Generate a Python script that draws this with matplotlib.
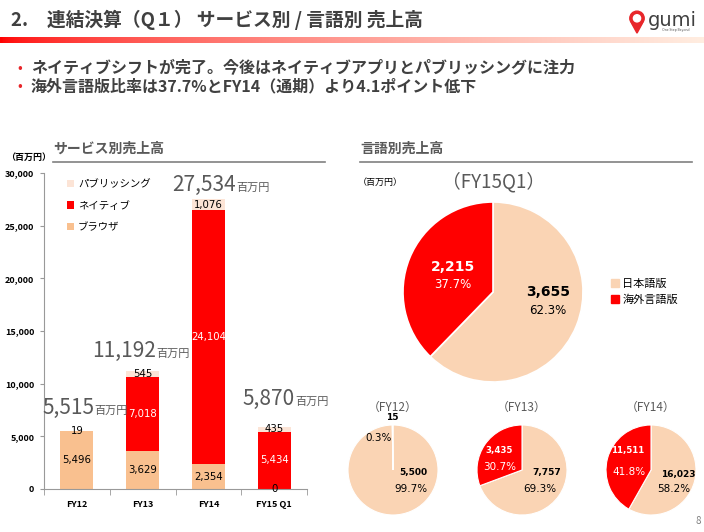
import numpy as np
import matplotlib
matplotlib.use('Agg')
import matplotlib.pyplot as plt
from matplotlib.patches import Patch, Circle, Polygon

plt.rcParams['font.family'] = ['Noto Sans CJK JP', 'DejaVu Sans']

W, H = 704, 532

# data
categories = ['FY12', 'FY13', 'FY14', 'FY15 Q1']
browser = [5496, 3629, 2354, 0]
native = [0, 7018, 24104, 5434]
publishing = [19, 545, 1076, 435]
totals = ['5,515', '11,192', '27,534', '5,870']

pie_main = [3655, 2215]          # 日本語版, 海外言語版
pie_main_pct = ['62.3%', '37.7%']
pie_years = ['（FY12）', '（FY13）', '（FY14）']
pie_jp = [5500, 7757, 16023]
pie_ov = [15, 3435, 11511]
pie_jp_pct = ['99.7%', '69.3%', '58.2%']
pie_ov_pct = ['0.3%', '30.7%', '41.8%']

c_browser = '#F9C08F'
c_native = '#FF0000'
c_pub = '#FCE4D6'
c_jp = '#FAD4B4'
c_ov = '#FF0000'
dark = '#404040'
gray = '#595959'
num = 'DejaVu Sans'


def px(x, y):
    return x / W, 1 - y / H


def rect(x0, y0, x1, y1):
    return [x0 / W, 1 - y1 / H, (x1 - x0) / W, (y1 - y0) / H]


fig = plt.figure(figsize=(W / 100, H / 100), dpi=100)

# header
fig.text(*px(11, 20), '2.　連結決算（Q１） サービス別 / 言語別 売上高', fontsize=13.5,
         fontweight='bold', color=dark, va='center')
gax = fig.add_axes(rect(0, 37, W, 43))
grad = np.linspace(0, 1, 256)
cols = np.array([[1.0, 0.0 + 0.93 * g, 0.0 + 0.88 * g] for g in grad ** 0.6])
cols = np.clip(cols, 0, 1)
gax.imshow(cols[None, :, :], aspect='auto', extent=[0, 1, 0, 1])
gax.axis('off')

# logo
lax = fig.add_axes(rect(628, 8, 646, 34))
lax.set_xlim(-1, 1)
lax.set_ylim(-1.45, 1.45)
lax.add_patch(Polygon([[-0.6, -0.25], [0.6, -0.25], [0, -1.35]], color='#E8262A'))
lax.add_patch(Circle((0, 0.3), 0.8, color='#E8262A'))
lax.add_patch(Circle((0, 0.3), 0.4, color='white'))
lax.axis('off')
fig.text(*px(648, 20), 'gumi', fontsize=14, color=dark, va='center', family='DejaVu Sans')
fig.text(*px(676, 30), 'One Step Beyond', fontsize=2.5, color=gray, va='center', ha='center')

# bullets
for y, t in [(68, 'ネイティブシフトが完了。今後はネイティブアプリとパブリッシングに注力'),
             (86, '海外言語版比率は37.7%とFY14（通期）より4.1ポイント低下')]:
    fig.text(*px(17, y), '•', fontsize=10, color='#E8262A', va='center')
    fig.text(*px(31, y), t, fontsize=11.5, fontweight='bold', color=dark, va='center')

# section headers
fig.text(*px(53, 149), 'サービス別売上高', fontsize=10, fontweight='bold', color=gray, va='center')
fig.add_artist(plt.Line2D([53 / W, 325 / W], [1 - 162 / H] * 2, color='#808080', lw=1.2))
fig.text(*px(360, 149), '言語別売上高', fontsize=10, fontweight='bold', color=gray, va='center')
fig.add_artist(plt.Line2D([360 / W, 692 / W], [1 - 162 / H] * 2, color='#808080', lw=1.2))
fig.text(*px(6, 157), '（百万円）', fontsize=6.5, fontweight='bold', color='black', va='center')
fig.text(*px(358, 182), '（百万円）', fontsize=6.5, color='black', va='center')

# bar chart
ax = fig.add_axes(rect(44, 173, 307, 489))
x = np.arange(len(categories))
bw = 0.5
ax.bar(x, browser, bw, color=c_browser, label='ブラウザ')
ax.bar(x, native, bw, bottom=browser, color=c_native, label='ネイティブ')
bot2 = np.array(browser) + np.array(native)
ax.bar(x, publishing, bw, bottom=bot2, color=c_pub, label='パブリッシング')
ax.set_xlim(-0.5, 3.5)
ax.set_ylim(0, 30000)
ax.set_yticks(range(0, 30001, 5000))
ax.set_yticklabels([f'{v:,}' for v in range(0, 30001, 5000)], fontsize=6.5, fontweight='bold')
ax.set_xticks(x)
ax.set_xticklabels(categories, fontsize=6.5, fontweight='bold')
ax.set_xticks(np.arange(-0.5, 4, 1), minor=True)
ax.tick_params(axis='x', which='major', length=0, pad=8)
ax.tick_params(axis='x', which='minor', length=4, color='#999999')
ax.tick_params(axis='y', length=3, color='#999999', pad=4)
for s in ['top', 'right']:
    ax.spines[s].set_visible(False)
for s in ['left', 'bottom']:
    ax.spines[s].set_color('#999999')

for i in range(len(categories)):
    ax.text(x[i], browser[i] / 2, f'{browser[i]:,}', ha='center', va='center', fontsize=7.3,
            color='black', family=num)
    if native[i]:
        ax.text(x[i], browser[i] + native[i] / 2, f'{native[i]:,}', ha='center', va='center',
                fontsize=7.3, color='white', family=num)
    ax.text(x[i], bot2[i] + publishing[i] / 2, f'{publishing[i]:,}', ha='center', va='center',
            fontsize=7.3, color='black', family=num)

h, l = ax.get_legend_handles_labels()
ax.legend(h[::-1], l[::-1], loc='upper left', bbox_to_anchor=(0.05, 1.01), frameon=False,
          fontsize=7.5, handlelength=0.7, handleheight=0.7, labelspacing=1.1, handletextpad=0.4)

# totals above bars
tot_pos = [(94, 414), (156, 357), (236, 191), (295, 405)]
for (tx, ty), t in zip(tot_pos, totals):
    fig.text(*px(tx, ty), t, fontsize=15, color=gray, ha='right', va='baseline')
    fig.text(*px(tx, ty), '百万円', fontsize=8, color=gray, ha='left', va='baseline')

# main pie
pax = fig.add_axes(rect(493 - 90, 292 - 90, 493 + 90, 292 + 90))
pax.pie(pie_main, colors=[c_jp, c_ov], startangle=90, counterclock=False,
        wedgeprops=dict(edgecolor='white', linewidth=1.2))
pax.set_xlim(-1, 1)
pax.set_ylim(-1, 1)
fig.text(*px(494, 182), '（FY15Q1）', fontsize=13.5, color=gray, ha='center', va='center')
fig.text(*px(453, 267), f'{pie_main[1]:,}', fontsize=10, fontweight='bold', color='white',
         ha='center', va='center', family=num)
fig.text(*px(453, 285), pie_main_pct[1], fontsize=8.5, color='white', ha='center', va='center',
         family=num)
fig.text(*px(548, 292), f'{pie_main[0]:,}', fontsize=10, fontweight='bold', color='black',
         ha='center', va='center', family=num)
fig.text(*px(548, 311), pie_main_pct[0], fontsize=8.5, color='black', ha='center', va='center',
         family=num)
pax.legend([Patch(color=c_jp), Patch(color=c_ov)], ['日本語版', '海外言語版'],
           loc='center left', bbox_to_anchor=(1.1, 0.5), frameon=False, fontsize=8,
           handlelength=0.7, handleheight=0.7, labelspacing=0.5, handletextpad=0.3)

# small pies
centers = [393, 522, 651]
ov_lab = [(379, 438, 379, 438), (499, 451, 500, 467), (628, 451, 629, 472)]
jp_lab = [(413, 472, 411, 489), (547, 472, 540, 489), (678, 474, 674, 489)]
for i, cx in enumerate(centers):
    cy, r = 470, 45
    sax = fig.add_axes(rect(cx - r, cy - r, cx + r, cy + r))
    sax.pie([pie_jp[i], pie_ov[i]], colors=[c_jp, c_ov], startangle=90, counterclock=False,
            wedgeprops=dict(edgecolor='white', linewidth=0.8))
    sax.set_xlim(-1, 1)
    sax.set_ylim(-1, 1)
    fig.text(*px(cx, 407), pie_years[i], fontsize=8.5, color=gray, ha='center', va='center')
    ox, oy, ox2, oy2 = ov_lab[i]
    if i == 0:
        fig.text(*px(cx - 1, 418), f'{pie_ov[i]:,}', fontsize=6.5, fontweight='bold',
                 color='black', ha='center', va='center', family=num)
        fig.text(*px(ox, oy), pie_ov_pct[i], fontsize=7.5, color='black', ha='center',
                 va='center', family=num)
    else:
        fig.text(*px(ox, oy), f'{pie_ov[i]:,}', fontsize=6.2, fontweight='bold', color='white',
                 ha='center', va='center', family=num)
        fig.text(*px(ox2, oy2), pie_ov_pct[i], fontsize=7.5, color='white', ha='center',
                 va='center', family=num)
    jx, jy, jx2, jy2 = jp_lab[i]
    fig.text(*px(jx, jy), f'{pie_jp[i]:,}', fontsize=6.5, fontweight='bold', color='black',
             ha='center', va='center', family=num)
    fig.text(*px(jx2, jy2), pie_jp_pct[i], fontsize=7.5, color='black', ha='center',
             va='center', family=num)

fig.text(*px(698, 521), '8', fontsize=7, color='#808080', ha='center', va='center')

fig.savefig('out.png', dpi=100)
